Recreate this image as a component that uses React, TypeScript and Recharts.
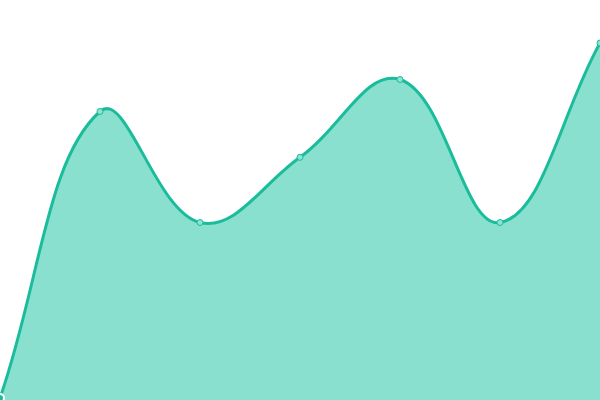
import React from 'react';
import { AreaChart, Area, XAxis, YAxis } from 'recharts';

// Category positions along the x axis
const CATEGORIES: string[] = ['A', 'B', 'C', 'D', 'E', 'F', 'G'];

// Series values (domain 0..400)
const VALUES: number[] = [2, 288.5, 177.5, 242.7, 320.5, 177.5, 357];

const DATA = CATEGORIES.map((name, i) => ({ name, value: VALUES[i] }));

// Spline with tension 0.4, control points scaled by neighbour distances
function tensionCurve(context: any) {
  const t = 0.4;
  let pts: [number, number][] = [];
  let line: number = NaN;

  const draw = () => {
    const n = pts.length;
    if (n === 0) return;
    if (line) context.lineTo(pts[0][0], pts[0][1]);
    else context.moveTo(pts[0][0], pts[0][1]);
    if (n === 1) return;
    const cps = pts.map((cur, i) => {
      const prev = pts[i - 1] || cur;
      const next = pts[i + 1] || cur;
      const d01 = Math.hypot(cur[0] - prev[0], cur[1] - prev[1]);
      const d12 = Math.hypot(next[0] - cur[0], next[1] - cur[1]);
      let s01 = d01 / (d01 + d12);
      let s12 = d12 / (d01 + d12);
      if (isNaN(s01)) s01 = 0;
      if (isNaN(s12)) s12 = 0;
      const fa = t * s01;
      const fb = t * s12;
      return {
        px: cur[0] - fa * (next[0] - prev[0]),
        py: cur[1] - fa * (next[1] - prev[1]),
        nx: cur[0] + fb * (next[0] - prev[0]),
        ny: cur[1] + fb * (next[1] - prev[1]),
      };
    });
    for (let i = 1; i < n; i++) {
      context.bezierCurveTo(cps[i - 1].nx, cps[i - 1].ny, cps[i].px, cps[i].py, pts[i][0], pts[i][1]);
    }
  };

  return {
    areaStart() { line = 0; },
    areaEnd() { line = NaN; },
    lineStart() { pts = []; },
    lineEnd() {
      draw();
      if (line || (line !== 0 && pts.length === 1)) context.closePath();
      line = 1 - line;
    },
    point(x: number, y: number) {
      pts.push([+x, +y]);
    },
  };
}

export default function App() {
  return (
    <div style={{ position: 'fixed', top: 0, left: 0, width: 600, height: 400, background: '#fff' }}>
      <AreaChart width={600} height={400} data={DATA} margin={{ top: 0, right: 0, left: 0, bottom: 0 }}>
        <XAxis dataKey="name" hide />
        <YAxis hide domain={[0, 400]} />
        <Area
          type={tensionCurve as any}
          dataKey="value"
          stroke="#1abc9c"
          strokeWidth={3}
          fill="#89e0cf"
          fillOpacity={1}
          dot={{ r: 3, fill: '#8ee3d2', stroke: '#1abc9c', strokeWidth: 1 }}
          isAnimationActive={false}
        />
      </AreaChart>
    </div>
  );
}
